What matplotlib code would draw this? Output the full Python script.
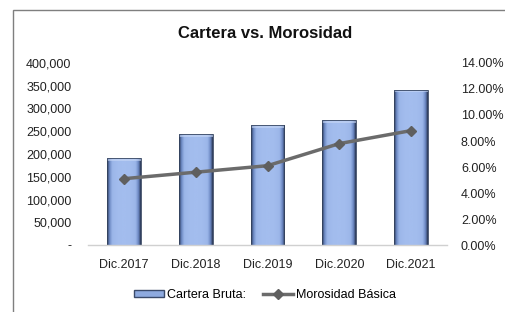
import matplotlib
matplotlib.use("Agg")
import matplotlib.pyplot as plt
import numpy as np
from matplotlib.patches import Rectangle
from matplotlib.lines import Line2D
from matplotlib.ticker import FuncFormatter, FixedLocator
from matplotlib.colors import LinearSegmentedColormap

categories = ["Dic.2017", "Dic.2018", "Dic.2019", "Dic.2020", "Dic.2021"]
cartera = [190800, 243700, 263500, 275200, 341300]
morosidad = [5.1, 5.6, 6.1, 7.8, 8.8]
left_ticks = [0, 50000, 100000, 150000, 200000, 250000, 300000, 350000, 400000]
right_ticks = [0, 2, 4, 6, 8, 10, 12, 14]

plt.rcParams['font.family'] = ['Liberation Sans', 'DejaVu Sans']

fig = plt.figure(figsize=(5.05, 3.12), dpi=100)
# outer chart frame
fig.patches.append(Rectangle((13/505, -0.1), 1.0, 1 - 10/312 + 0.1, transform=fig.transFigure,
                             fill=False, edgecolor='#7f7f7f', linewidth=1.0))

ax = fig.add_axes([88/505, 1 - 245/312, (447-88)/505, (245-63)/312])
x = np.arange(len(categories))
width = 0.47

# gradient bars
grad = np.linspace(-1, 1, 64)
vals = 1 - np.abs(grad) ** 3
cmap = LinearSegmentedColormap.from_list('barg', ['#2a3755', '#6783bd', '#9ab5e8', '#a3bdee'])
bars = ax.bar(x, cartera, width=width, color='none', edgecolor='#35445f', linewidth=0.6, zorder=2)
for b in bars:
    bx, by = b.get_x(), b.get_y()
    bw, bh = b.get_width(), b.get_height()
    im = ax.imshow(vals[np.newaxis, :], cmap=cmap, aspect='auto',
                   extent=[bx, bx + bw, by, by + bh], zorder=1.5, vmin=0, vmax=1)
    im.set_clip_path(b)
    ax.add_patch(Rectangle((bx, by + bh - 6000), bw, 6000, facecolor='#c8d8f6', alpha=0.6,
                           edgecolor='none', zorder=1.8))

ax.set_xlim(-0.5, len(categories) - 0.5)
ax.set_ylim(0, 400000)

for s in ['top', 'right', 'left']:
    ax.spines[s].set_visible(False)
ax.spines['bottom'].set_color('#d0d0d0')
ax.spines['bottom'].set_linewidth(1.0)

fs = 9
ax.yaxis.set_major_locator(FixedLocator(left_ticks))
ax.yaxis.set_major_formatter(FuncFormatter(lambda v, p: '-' if v == 0 else f"{int(v):,}"))
ax.tick_params(axis='y', length=0, pad=12, labelsize=fs, colors='#222222')
ax.set_xticks(x)
ax.set_xticklabels(categories)
ax.tick_params(axis='x', length=0, pad=10, labelsize=fs, colors='#222222')

ax2 = ax.twinx()
ax2.set_ylim(0, 14)
ax2.plot(x, morosidad, color='#6b6b6b', linewidth=2.5, marker='D', markersize=5,
         markerfacecolor='#5f5f5f', markeredgecolor='#5f5f5f', zorder=3)
for s in ['top', 'right', 'left', 'bottom']:
    ax2.spines[s].set_visible(False)
ax2.yaxis.set_major_locator(FixedLocator(right_ticks))
ax2.yaxis.set_major_formatter(FuncFormatter(lambda v, p: f"{v:.2f}%"))
ax2.tick_params(axis='y', length=0, pad=10, labelsize=fs, colors='#222222')

fig.text(0.525, 1 - 33/312, "Cartera vs. Morosidad", ha='center', va='center',
         fontsize=12, fontweight='bold', color='#111111')

handles = [Rectangle((0, 0), 1, 1, facecolor='#8eaadf', edgecolor='#3a4a6a'),
           Line2D([0], [0], color='#6b6b6b', linewidth=2.5, marker='D', markersize=5,
                  markerfacecolor='#5f5f5f', markeredgecolor='#5f5f5f')]
fig.legend(handles, ["Cartera Bruta:", "Morosidad Básica"], loc='center',
           bbox_to_anchor=(0.525, 1 - 295/312), ncol=2, frameon=False, fontsize=fs,
           handlelength=2.4, handleheight=0.45, columnspacing=1.4, handletextpad=0.2)

fig.savefig("out.png", dpi=100)
